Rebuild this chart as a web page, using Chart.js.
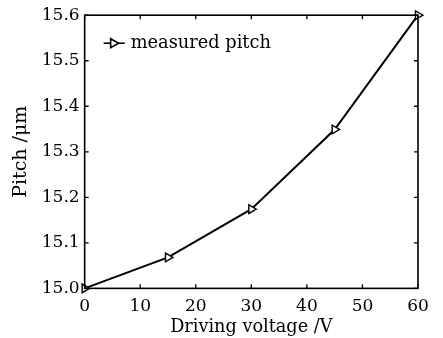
<!DOCTYPE html>
<html><head><meta charset="utf-8">
<script src="https://cdn.jsdelivr.net/npm/chart.js@4"></script>
<style>html,body{margin:0;padding:0;background:#fff}#wrap{width:443px;height:338px}</style>
</head><body><div id="wrap"><canvas id="c"></canvas></div>
<script>
const voltages = [0, 15, 30, 45, 60];
const pitch = [15.0, 15.068, 15.174, 15.349, 15.6];
const xTicks = [0, 10, 20, 30, 40, 50, 60];
const yTicks = [15.0, 15.1, 15.2, 15.3, 15.4, 15.5, 15.6];
const seriesLabel = 'measured pitch';
const xTitle = 'Driving voltage /V';
const yTitle = 'Pitch /\u03bcm';
const FONT = "'DejaVu Serif', serif";

const framePlugin = {
  id: 'frame',
  afterDatasetsDraw(chart) {
    const {ctx, chartArea: a, scales: {x, y}} = chart;
    ctx.save();
    ctx.strokeStyle = '#000';
    ctx.lineWidth = 1.6;
    ctx.strokeRect(a.left, a.top, a.right - a.left, a.bottom - a.top);
    ctx.lineWidth = 1.3;
    const L = 4;
    ctx.beginPath();
    xTicks.forEach(v => {
      const px = x.getPixelForValue(v);
      ctx.moveTo(px, a.bottom); ctx.lineTo(px, a.bottom - L);
      ctx.moveTo(px, a.top); ctx.lineTo(px, a.top + L);
    });
    yTicks.forEach(v => {
      const py = y.getPixelForValue(v);
      ctx.moveTo(a.left, py); ctx.lineTo(a.left + L, py);
      ctx.moveTo(a.right, py); ctx.lineTo(a.right - L, py);
    });
    ctx.stroke();
    // legend
    const lx = a.left + 19, ly = a.top + 28;
    ctx.lineWidth = 1.6;
    ctx.beginPath(); ctx.moveTo(lx, ly); ctx.lineTo(lx + 21, ly); ctx.stroke();
    ctx.beginPath();
    ctx.moveTo(lx + 7, ly - 4.5); ctx.lineTo(lx + 15, ly); ctx.lineTo(lx + 7, ly + 4.5); ctx.closePath();
    ctx.fillStyle = '#fff'; ctx.fill(); ctx.stroke();
    ctx.fillStyle = '#000';
    ctx.font = '17.8px ' + FONT;
    ctx.textBaseline = 'middle';
    ctx.fillText(seriesLabel, lx + 27, ly);
    ctx.restore();
  }
};

new Chart(document.getElementById('c'), {
  type: 'line',
  data: {
    labels: voltages,
    datasets: [{
      label: seriesLabel,
      data: voltages.map((v, i) => ({x: v, y: pitch[i]})),
      borderColor: '#000',
      borderWidth: 2,
      backgroundColor: '#fff',
      pointStyle: 'triangle',
      rotation: 90,
      pointRadius: 5,
      pointBorderWidth: 1.4,
      pointBorderColor: '#000',
      pointBackgroundColor: '#fff',
      tension: 0,
      clip: false
    }]
  },
  options: {
    responsive: true,
    maintainAspectRatio: false,
    animation: false,
    layout: {padding: {left: 10, right: 25, top: 9, bottom: 0}},
    plugins: {legend: {display: false}, tooltip: {enabled: false}},
    scales: {
      x: {
        type: 'linear', min: 0, max: 60,
        afterBuildTicks: s => { s.ticks = xTicks.map(v => ({value: v})); },
        grid: {display: false, drawTicks: false}, border: {display: false},
        ticks: {color: '#000', font: {family: FONT, size: 17}, padding: 8, maxRotation: 0},
        title: {display: true, text: xTitle, color: '#000', font: {family: FONT, size: 17.7}, padding: {top: -8, bottom: 0}}
      },
      y: {
        type: 'linear', min: 15.0, max: 15.6,
        afterBuildTicks: s => { s.ticks = yTicks.map(v => ({value: v})); },
        grid: {display: false, drawTicks: false}, border: {display: false},
        ticks: {color: '#000', font: {family: FONT, size: 17}, padding: 5, callback: v => Number(v).toFixed(1)},
        title: {display: true, text: yTitle, color: '#000', font: {family: FONT, size: 19}, padding: {top: 0, bottom: 4}}
      }
    }
  },
  plugins: [framePlugin]
});
</script></body></html>
